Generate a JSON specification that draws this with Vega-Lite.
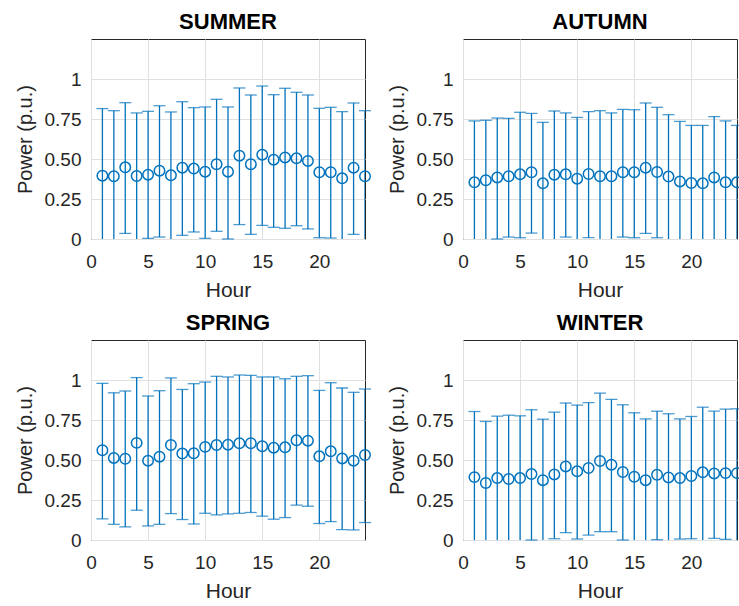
{
  "$schema": "https://vega.github.io/schema/vega-lite/v6.json",
  "padding": {"left": 14, "top": 10, "right": 0, "bottom": 0},
  "background": "white",
  "datasets": {
    "d": [
      {"season": "SUMMER", "hour": 1, "mean": 0.396, "lo": -0.025, "hi": 0.815},
      {"season": "SUMMER", "hour": 2, "mean": 0.392, "lo": -0.02, "hi": 0.802},
      {"season": "SUMMER", "hour": 3, "mean": 0.448, "lo": 0.035, "hi": 0.852},
      {"season": "SUMMER", "hour": 4, "mean": 0.394, "lo": -0.01, "hi": 0.788},
      {"season": "SUMMER", "hour": 5, "mean": 0.402, "lo": 0.004, "hi": 0.798},
      {"season": "SUMMER", "hour": 6, "mean": 0.427, "lo": 0.012, "hi": 0.833},
      {"season": "SUMMER", "hour": 7, "mean": 0.398, "lo": -0.005, "hi": 0.794},
      {"season": "SUMMER", "hour": 8, "mean": 0.446, "lo": 0.023, "hi": 0.858},
      {"season": "SUMMER", "hour": 9, "mean": 0.44, "lo": 0.044, "hi": 0.821},
      {"season": "SUMMER", "hour": 10, "mean": 0.421, "lo": 0.004, "hi": 0.825},
      {"season": "SUMMER", "hour": 11, "mean": 0.467, "lo": 0.048, "hi": 0.873},
      {"season": "SUMMER", "hour": 12, "mean": 0.421, "lo": 0.0, "hi": 0.825},
      {"season": "SUMMER", "hour": 13, "mean": 0.521, "lo": 0.09, "hi": 0.944},
      {"season": "SUMMER", "hour": 14, "mean": 0.467, "lo": 0.029, "hi": 0.9},
      {"season": "SUMMER", "hour": 15, "mean": 0.527, "lo": 0.085, "hi": 0.956},
      {"season": "SUMMER", "hour": 16, "mean": 0.496, "lo": 0.073, "hi": 0.902},
      {"season": "SUMMER", "hour": 17, "mean": 0.51, "lo": 0.067, "hi": 0.942},
      {"season": "SUMMER", "hour": 18, "mean": 0.504, "lo": 0.083, "hi": 0.917},
      {"season": "SUMMER", "hour": 19, "mean": 0.488, "lo": 0.063, "hi": 0.9},
      {"season": "SUMMER", "hour": 20, "mean": 0.417, "lo": 0.008, "hi": 0.817},
      {"season": "SUMMER", "hour": 21, "mean": 0.417, "lo": 0.006, "hi": 0.823},
      {"season": "SUMMER", "hour": 22, "mean": 0.379, "lo": -0.038, "hi": 0.796},
      {"season": "SUMMER", "hour": 23, "mean": 0.446, "lo": 0.029, "hi": 0.85},
      {"season": "SUMMER", "hour": 24, "mean": 0.392, "lo": -0.018, "hi": 0.802},
      {"season": "AUTUMN", "hour": 1, "mean": 0.354, "lo": -0.03, "hi": 0.738},
      {"season": "AUTUMN", "hour": 2, "mean": 0.367, "lo": -0.008, "hi": 0.742},
      {"season": "AUTUMN", "hour": 3, "mean": 0.385, "lo": 0.0, "hi": 0.756},
      {"season": "AUTUMN", "hour": 4, "mean": 0.392, "lo": 0.012, "hi": 0.754},
      {"season": "AUTUMN", "hour": 5, "mean": 0.404, "lo": 0.008, "hi": 0.792},
      {"season": "AUTUMN", "hour": 6, "mean": 0.417, "lo": 0.037, "hi": 0.785},
      {"season": "AUTUMN", "hour": 7, "mean": 0.348, "lo": -0.03, "hi": 0.729},
      {"season": "AUTUMN", "hour": 8, "mean": 0.402, "lo": -0.005, "hi": 0.8},
      {"season": "AUTUMN", "hour": 9, "mean": 0.404, "lo": 0.012, "hi": 0.788},
      {"season": "AUTUMN", "hour": 10, "mean": 0.377, "lo": -0.01, "hi": 0.76},
      {"season": "AUTUMN", "hour": 11, "mean": 0.406, "lo": 0.008, "hi": 0.796},
      {"season": "AUTUMN", "hour": 12, "mean": 0.392, "lo": -0.01, "hi": 0.802},
      {"season": "AUTUMN", "hour": 13, "mean": 0.392, "lo": -0.005, "hi": 0.788},
      {"season": "AUTUMN", "hour": 14, "mean": 0.417, "lo": 0.012, "hi": 0.81},
      {"season": "AUTUMN", "hour": 15, "mean": 0.417, "lo": 0.008, "hi": 0.808},
      {"season": "AUTUMN", "hour": 16, "mean": 0.446, "lo": 0.035, "hi": 0.85},
      {"season": "AUTUMN", "hour": 17, "mean": 0.419, "lo": 0.008, "hi": 0.823},
      {"season": "AUTUMN", "hour": 18, "mean": 0.39, "lo": -0.005, "hi": 0.777},
      {"season": "AUTUMN", "hour": 19, "mean": 0.36, "lo": -0.015, "hi": 0.735},
      {"season": "AUTUMN", "hour": 20, "mean": 0.35, "lo": -0.01, "hi": 0.71},
      {"season": "AUTUMN", "hour": 21, "mean": 0.348, "lo": -0.015, "hi": 0.71},
      {"season": "AUTUMN", "hour": 22, "mean": 0.385, "lo": -0.005, "hi": 0.765},
      {"season": "AUTUMN", "hour": 23, "mean": 0.354, "lo": -0.03, "hi": 0.738},
      {"season": "AUTUMN", "hour": 24, "mean": 0.354, "lo": -0.005, "hi": 0.71},
      {"season": "SPRING", "hour": 1, "mean": 0.561, "lo": 0.132, "hi": 0.979},
      {"season": "SPRING", "hour": 2, "mean": 0.513, "lo": 0.098, "hi": 0.92},
      {"season": "SPRING", "hour": 3, "mean": 0.508, "lo": 0.082, "hi": 0.931},
      {"season": "SPRING", "hour": 4, "mean": 0.607, "lo": 0.186, "hi": 1.015},
      {"season": "SPRING", "hour": 5, "mean": 0.496, "lo": 0.088, "hi": 0.9},
      {"season": "SPRING", "hour": 6, "mean": 0.521, "lo": 0.098, "hi": 0.933},
      {"season": "SPRING", "hour": 7, "mean": 0.594, "lo": 0.165, "hi": 1.013},
      {"season": "SPRING", "hour": 8, "mean": 0.54, "lo": 0.128, "hi": 0.941},
      {"season": "SPRING", "hour": 9, "mean": 0.542, "lo": 0.1, "hi": 0.977},
      {"season": "SPRING", "hour": 10, "mean": 0.582, "lo": 0.167, "hi": 0.987},
      {"season": "SPRING", "hour": 11, "mean": 0.594, "lo": 0.157, "hi": 1.023},
      {"season": "SPRING", "hour": 12, "mean": 0.596, "lo": 0.163, "hi": 1.019},
      {"season": "SPRING", "hour": 13, "mean": 0.605, "lo": 0.167, "hi": 1.031},
      {"season": "SPRING", "hour": 14, "mean": 0.605, "lo": 0.172, "hi": 1.029},
      {"season": "SPRING", "hour": 15, "mean": 0.586, "lo": 0.149, "hi": 1.019},
      {"season": "SPRING", "hour": 16, "mean": 0.577, "lo": 0.13, "hi": 1.019},
      {"season": "SPRING", "hour": 17, "mean": 0.579, "lo": 0.14, "hi": 1.008},
      {"season": "SPRING", "hour": 18, "mean": 0.623, "lo": 0.218, "hi": 1.023},
      {"season": "SPRING", "hour": 19, "mean": 0.621, "lo": 0.211, "hi": 1.027},
      {"season": "SPRING", "hour": 20, "mean": 0.523, "lo": 0.103, "hi": 0.935},
      {"season": "SPRING", "hour": 21, "mean": 0.554, "lo": 0.115, "hi": 0.983},
      {"season": "SPRING", "hour": 22, "mean": 0.51, "lo": 0.065, "hi": 0.95},
      {"season": "SPRING", "hour": 23, "mean": 0.496, "lo": 0.063, "hi": 0.923},
      {"season": "SPRING", "hour": 24, "mean": 0.531, "lo": 0.109, "hi": 0.944},
      {"season": "WINTER", "hour": 1, "mean": 0.393, "lo": -0.02, "hi": 0.803},
      {"season": "WINTER", "hour": 2, "mean": 0.356, "lo": -0.03, "hi": 0.741},
      {"season": "WINTER", "hour": 3, "mean": 0.387, "lo": -0.005, "hi": 0.774},
      {"season": "WINTER", "hour": 4, "mean": 0.381, "lo": -0.02, "hi": 0.78},
      {"season": "WINTER", "hour": 5, "mean": 0.387, "lo": -0.005, "hi": 0.776},
      {"season": "WINTER", "hour": 6, "mean": 0.412, "lo": 0.0, "hi": 0.814},
      {"season": "WINTER", "hour": 7, "mean": 0.374, "lo": -0.01, "hi": 0.755},
      {"season": "WINTER", "hour": 8, "mean": 0.41, "lo": 0.008, "hi": 0.799},
      {"season": "WINTER", "hour": 9, "mean": 0.46, "lo": 0.046, "hi": 0.856},
      {"season": "WINTER", "hour": 10, "mean": 0.429, "lo": 0.006, "hi": 0.843},
      {"season": "WINTER", "hour": 11, "mean": 0.45, "lo": 0.031, "hi": 0.858},
      {"season": "WINTER", "hour": 12, "mean": 0.494, "lo": 0.052, "hi": 0.918},
      {"season": "WINTER", "hour": 13, "mean": 0.471, "lo": 0.052, "hi": 0.879},
      {"season": "WINTER", "hour": 14, "mean": 0.425, "lo": 0.0, "hi": 0.845},
      {"season": "WINTER", "hour": 15, "mean": 0.395, "lo": -0.005, "hi": 0.795},
      {"season": "WINTER", "hour": 16, "mean": 0.374, "lo": -0.01, "hi": 0.757},
      {"season": "WINTER", "hour": 17, "mean": 0.408, "lo": 0.002, "hi": 0.805},
      {"season": "WINTER", "hour": 18, "mean": 0.391, "lo": -0.01, "hi": 0.789},
      {"season": "WINTER", "hour": 19, "mean": 0.387, "lo": 0.006, "hi": 0.757},
      {"season": "WINTER", "hour": 20, "mean": 0.4, "lo": 0.008, "hi": 0.772},
      {"season": "WINTER", "hour": 21, "mean": 0.423, "lo": -0.005, "hi": 0.83},
      {"season": "WINTER", "hour": 22, "mean": 0.416, "lo": 0.01, "hi": 0.805},
      {"season": "WINTER", "hour": 23, "mean": 0.418, "lo": 0.004, "hi": 0.818},
      {"season": "WINTER", "hour": 24, "mean": 0.418, "lo": -0.005, "hi": 0.82}
    ]
  },
  "config": {
    "font": "Liberation Sans",
    "view": {"stroke": "#262626", "strokeWidth": 1},
    "axis": {
      "grid": true, "gridColor": "#e0e0e0", "gridWidth": 1,
      "domain": false, "ticks": false,
      "labelFont": "Liberation Sans", "labelFontSize": 19, "labelColor": "#262626", "labelFlush": false,
      "titleFont": "Liberation Sans", "titleFontSize": 21, "titleColor": "#262626", "titleFontWeight": "normal"
    },
    "axisX": {"labelPadding": 13, "titlePadding": 8},
    "axisY": {"labelPadding": 10, "titlePadding": 9, "titleFontSize": 20},
    "title": {"font": "Liberation Sans", "fontSize": 22, "fontWeight": "bold", "color": "#000000", "offset": 5, "anchor": "middle"}
  },
  "columns": 2,
  "spacing": {"row": 101, "column": 98},
  "bounds": "flush",
  "concat": [
    {
      "title": "SUMMER", "width": 274, "height": 200,
      "data": {"name": "d"},
      "transform": [{"filter": "datum.season == 'SUMMER'"}],
      "encoding": {"x": {"field": "hour", "type": "quantitative", "title": "Hour", "scale": {"domain": [0, 24], "nice": false}, "axis": {"values": [0, 5, 10, 15, 20]}}},
      "layer": [
        {"mark": {"type": "rule", "clip": true, "color": "#0072BD", "strokeWidth": 1.3}, "encoding": {"y": {"field": "lo", "type": "quantitative", "title": "Power (p.u.)", "scale": {"domain": [0, 1.25], "nice": false}, "axis": {"values": [0, 0.25, 0.5, 0.75, 1], "labelExpr": "datum.value == 0 ? '0' : datum.value == 1 ? '1' : format(datum.value, '.2f')"}}, "y2": {"field": "hi"}}},
        {"mark": {"type": "tick", "orient": "horizontal", "color": "#0072BD", "size": 12, "thickness": 1.3}, "encoding": {"y": {"field": "hi", "type": "quantitative", "title": "Power (p.u.)"}}},
        {"transform": [{"filter": "datum.lo >= 0"}], "mark": {"type": "tick", "orient": "horizontal", "color": "#0072BD", "size": 12, "thickness": 1.3}, "encoding": {"y": {"field": "lo", "type": "quantitative", "title": "Power (p.u.)"}}},
        {"mark": {"type": "point", "shape": "circle", "filled": false, "color": "#0072BD", "size": 110, "strokeWidth": 1.5, "opacity": 1}, "encoding": {"y": {"field": "mean", "type": "quantitative", "title": "Power (p.u.)"}}}
      ]
    },
    {
      "title": "AUTUMN", "width": 274, "height": 200,
      "data": {"name": "d"},
      "transform": [{"filter": "datum.season == 'AUTUMN'"}],
      "encoding": {"x": {"field": "hour", "type": "quantitative", "title": "Hour", "scale": {"domain": [0, 24], "nice": false}, "axis": {"values": [0, 5, 10, 15, 20]}}},
      "layer": [
        {"mark": {"type": "rule", "clip": true, "color": "#0072BD", "strokeWidth": 1.3}, "encoding": {"y": {"field": "lo", "type": "quantitative", "title": "Power (p.u.)", "scale": {"domain": [0, 1.25], "nice": false}, "axis": {"values": [0, 0.25, 0.5, 0.75, 1], "labelExpr": "datum.value == 0 ? '0' : datum.value == 1 ? '1' : format(datum.value, '.2f')"}}, "y2": {"field": "hi"}}},
        {"mark": {"type": "tick", "orient": "horizontal", "color": "#0072BD", "size": 12, "thickness": 1.3}, "encoding": {"y": {"field": "hi", "type": "quantitative", "title": "Power (p.u.)"}}},
        {"transform": [{"filter": "datum.lo >= 0"}], "mark": {"type": "tick", "orient": "horizontal", "color": "#0072BD", "size": 12, "thickness": 1.3}, "encoding": {"y": {"field": "lo", "type": "quantitative", "title": "Power (p.u.)"}}},
        {"mark": {"type": "point", "shape": "circle", "filled": false, "color": "#0072BD", "size": 110, "strokeWidth": 1.5, "opacity": 1}, "encoding": {"y": {"field": "mean", "type": "quantitative", "title": "Power (p.u.)"}}}
      ]
    },
    {
      "title": "SPRING", "width": 274, "height": 200,
      "data": {"name": "d"},
      "transform": [{"filter": "datum.season == 'SPRING'"}],
      "encoding": {"x": {"field": "hour", "type": "quantitative", "title": "Hour", "scale": {"domain": [0, 24], "nice": false}, "axis": {"values": [0, 5, 10, 15, 20]}}},
      "layer": [
        {"mark": {"type": "rule", "clip": true, "color": "#0072BD", "strokeWidth": 1.3}, "encoding": {"y": {"field": "lo", "type": "quantitative", "title": "Power (p.u.)", "scale": {"domain": [0, 1.25], "nice": false}, "axis": {"values": [0, 0.25, 0.5, 0.75, 1], "labelExpr": "datum.value == 0 ? '0' : datum.value == 1 ? '1' : format(datum.value, '.2f')"}}, "y2": {"field": "hi"}}},
        {"mark": {"type": "tick", "orient": "horizontal", "color": "#0072BD", "size": 12, "thickness": 1.3}, "encoding": {"y": {"field": "hi", "type": "quantitative", "title": "Power (p.u.)"}}},
        {"transform": [{"filter": "datum.lo >= 0"}], "mark": {"type": "tick", "orient": "horizontal", "color": "#0072BD", "size": 12, "thickness": 1.3}, "encoding": {"y": {"field": "lo", "type": "quantitative", "title": "Power (p.u.)"}}},
        {"mark": {"type": "point", "shape": "circle", "filled": false, "color": "#0072BD", "size": 110, "strokeWidth": 1.5, "opacity": 1}, "encoding": {"y": {"field": "mean", "type": "quantitative", "title": "Power (p.u.)"}}}
      ]
    },
    {
      "title": "WINTER", "width": 274, "height": 200,
      "data": {"name": "d"},
      "transform": [{"filter": "datum.season == 'WINTER'"}],
      "encoding": {"x": {"field": "hour", "type": "quantitative", "title": "Hour", "scale": {"domain": [0, 24], "nice": false}, "axis": {"values": [0, 5, 10, 15, 20]}}},
      "layer": [
        {"mark": {"type": "rule", "clip": true, "color": "#0072BD", "strokeWidth": 1.3}, "encoding": {"y": {"field": "lo", "type": "quantitative", "title": "Power (p.u.)", "scale": {"domain": [0, 1.25], "nice": false}, "axis": {"values": [0, 0.25, 0.5, 0.75, 1], "labelExpr": "datum.value == 0 ? '0' : datum.value == 1 ? '1' : format(datum.value, '.2f')"}}, "y2": {"field": "hi"}}},
        {"mark": {"type": "tick", "orient": "horizontal", "color": "#0072BD", "size": 12, "thickness": 1.3}, "encoding": {"y": {"field": "hi", "type": "quantitative", "title": "Power (p.u.)"}}},
        {"transform": [{"filter": "datum.lo >= 0"}], "mark": {"type": "tick", "orient": "horizontal", "color": "#0072BD", "size": 12, "thickness": 1.3}, "encoding": {"y": {"field": "lo", "type": "quantitative", "title": "Power (p.u.)"}}},
        {"mark": {"type": "point", "shape": "circle", "filled": false, "color": "#0072BD", "size": 110, "strokeWidth": 1.5, "opacity": 1}, "encoding": {"y": {"field": "mean", "type": "quantitative", "title": "Power (p.u.)"}}}
      ]
    }
  ]
}
